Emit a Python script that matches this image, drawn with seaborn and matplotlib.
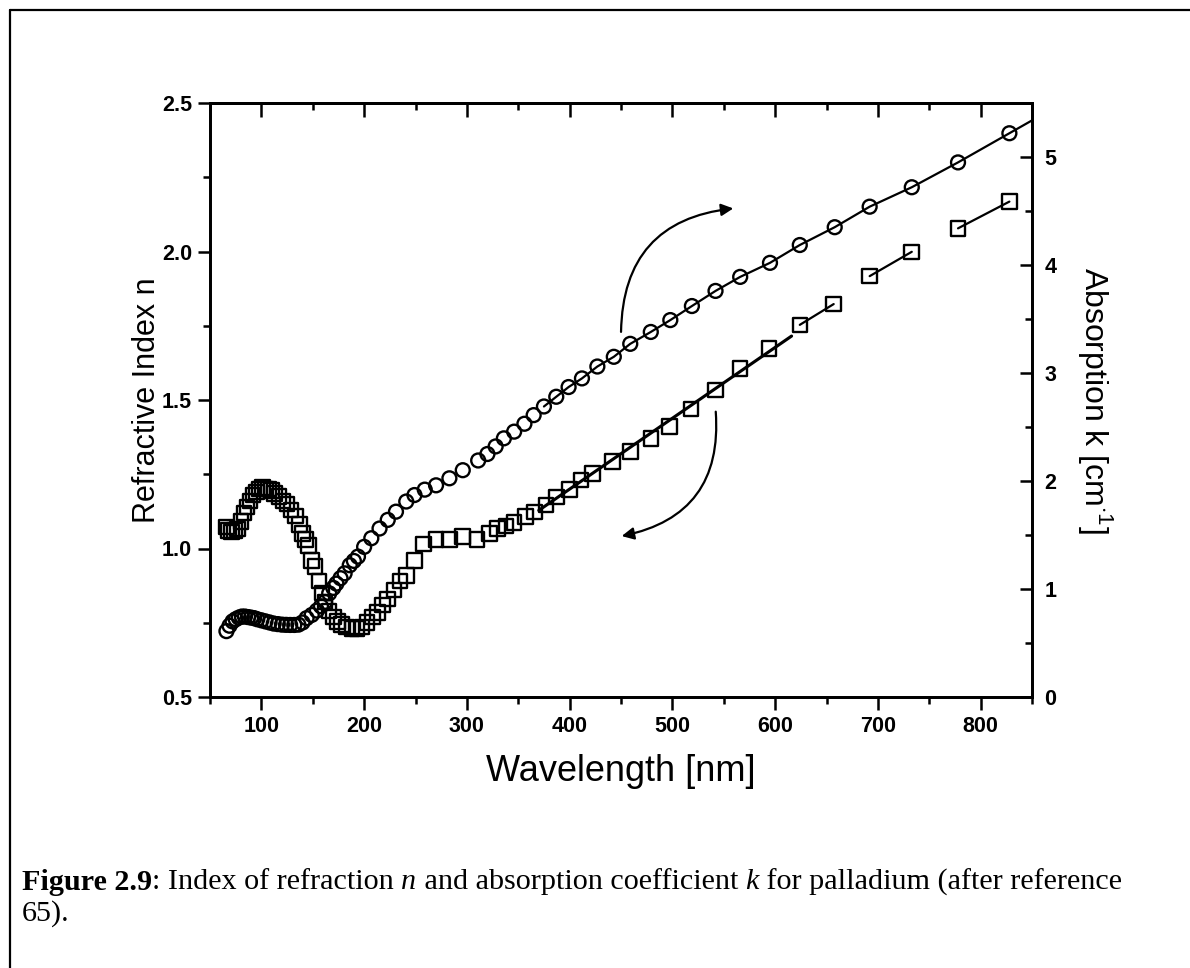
import numpy as np
import pandas as pd
import matplotlib
matplotlib.use("Agg")
import matplotlib.pyplot as plt
from matplotlib.ticker import MultipleLocator
from matplotlib.lines import Line2D
import seaborn as sns

# ---------------- data ----------------
# refractive index n (open squares, left axis)
wl_n = [66, 68, 71, 74, 77, 80, 83, 86, 89, 92, 95, 98, 101, 104, 107, 110, 113,
        117, 121, 125, 129, 133, 137, 140, 143, 146, 149, 152, 156, 159, 162, 166,
        170, 174, 178, 183, 188, 193, 198, 203, 208, 213, 218, 223, 229, 235, 241,
        249, 258, 270, 283, 296, 310, 322, 330, 338, 346, 357, 366, 377, 387, 400,
        411, 422, 442, 459, 479, 497, 518, 542, 566, 594, 624, 657, 692, 733, 778, 828]
n_val = [1.073, 1.06, 1.055, 1.06, 1.065, 1.09, 1.12, 1.14, 1.16, 1.18, 1.19, 1.20,
         1.205, 1.20, 1.20, 1.195, 1.185, 1.175, 1.16, 1.15, 1.13, 1.11, 1.08, 1.05,
         1.03, 1.01, 0.96, 0.94, 0.89, 0.85, 0.82, 0.79, 0.77, 0.755, 0.745, 0.735,
         0.73, 0.73, 0.735, 0.75, 0.77, 0.785, 0.81, 0.83, 0.86, 0.89, 0.91, 0.96,
         1.015, 1.03, 1.03, 1.04, 1.03, 1.051, 1.067, 1.076, 1.087, 1.107, 1.123,
         1.146, 1.174, 1.198, 1.23, 1.253, 1.292, 1.326, 1.37, 1.41, 1.47, 1.534,
         1.607, 1.674, 1.753, 1.823, 1.917, 1.999, 2.078, 2.168]

# absorption k (open circles, right axis)
wl_k = [66, 69, 72, 75, 78, 81, 84, 87, 90, 93, 96, 100, 104, 108, 112, 116, 120,
        124, 128, 132, 136, 140, 144, 149, 154, 158, 162, 166, 170, 173, 177, 181,
        186, 190, 194, 200, 207, 215, 223, 231, 241, 249, 259, 270, 283, 296, 311,
        320, 328, 336, 346, 356, 365, 375, 387, 399, 412, 427, 443, 459, 479, 498,
        519, 542, 566, 595, 624, 658, 692, 733, 778, 828]
k_val = [0.61, 0.66, 0.70, 0.72, 0.735, 0.745, 0.745, 0.74, 0.735, 0.73, 0.72, 0.71,
         0.70, 0.69, 0.68, 0.675, 0.67, 0.668, 0.667, 0.667, 0.67, 0.69, 0.73, 0.76,
         0.80, 0.84, 0.88, 0.96, 1.01, 1.05, 1.10, 1.145, 1.22, 1.26, 1.30, 1.39,
         1.47, 1.56, 1.64, 1.716, 1.81, 1.87, 1.92, 1.96, 2.025, 2.10, 2.19, 2.25,
         2.32, 2.395, 2.457, 2.53, 2.61, 2.69, 2.78, 2.87, 2.95, 3.06, 3.15, 3.27,
         3.38, 3.49, 3.62, 3.76, 3.89, 4.02, 4.185, 4.35, 4.54, 4.72, 4.95, 5.22]

# fitted n line range and connected n pairs beyond it
n_fit_range = (370, 616)
n_pairs = [(624, 657), (692, 733), (778, 828)]
k_line_start = 375

x_ticks = [100, 200, 300, 400, 500, 600, 700, 800]
xlim = (50, 850)
ylim_n = (0.5, 2.5)
ylim_k = (0, 5.5)

# ---------------- style ----------------
sns.set_style("ticks")
plt.rcParams["font.family"] = ["Liberation Sans", "DejaVu Sans"]
plt.rcParams["mathtext.fontset"] = "custom"
plt.rcParams["mathtext.rm"] = "Liberation Sans"
for key in ["text.color", "axes.labelcolor", "xtick.color", "ytick.color",
            "axes.edgecolor"]:
    plt.rcParams[key] = "black"

W, H = 1190, 968
fig = plt.figure(figsize=(W / 100, H / 100), dpi=100)
fig.patch.set_facecolor("white")
L, R, T, B = 210, 1032, 103, 697
ax = fig.add_axes([L / W, 1 - B / H, (R - L) / W, (B - T) / H])
ax2 = ax.twinx()

df_n = pd.DataFrame({"wl": wl_n, "n": n_val})
df_k = pd.DataFrame({"wl": wl_k, "k": k_val})

lw = 1.6
# fitted line through n between n_fit_range
sub = df_n[(df_n.wl >= n_fit_range[0] - 30) & (df_n.wl <= n_fit_range[1] + 30)]
coef = np.polyfit(sub.wl, sub.n, 1)
fit_x = np.array(n_fit_range, dtype=float)
sns.lineplot(x=fit_x, y=np.polyval(coef, fit_x), ax=ax, color="black", lw=lw * 1.4)
for a, b in n_pairs:
    seg = df_n[df_n.wl.isin([a, b])]
    sns.lineplot(x=seg.wl.values, y=seg.n.values, ax=ax, color="black", lw=lw)

sns.scatterplot(data=df_n, x="wl", y="n", ax=ax, marker="s", s=110,
                facecolors="none", edgecolor="black", linewidth=1.7, zorder=3)

# k line from k_line_start onward, extended to the right edge
kl = df_k[df_k.wl >= k_line_start]
slope = (kl.k.values[-1] - kl.k.values[-2]) / (kl.wl.values[-1] - kl.wl.values[-2])
kx = np.append(kl.wl.values, 870.0)
ky = np.append(kl.k.values, kl.k.values[-1] + slope * (870 - kl.wl.values[-1]))
sns.lineplot(x=kx, y=ky, ax=ax2, color="black", lw=lw, sort=False)
sns.scatterplot(data=df_k, x="wl", y="k", ax=ax2, marker="o", s=100,
                facecolors="none", edgecolor="black", linewidth=1.7, zorder=3)

ax.set_xlim(*xlim)
ax.set_ylim(*ylim_n)
ax2.set_ylim(*ylim_k)

# ticks
ax.set_xticks(x_ticks)
ax.xaxis.set_minor_locator(MultipleLocator(50))
ax.yaxis.set_major_locator(MultipleLocator(0.5))
ax.yaxis.set_minor_locator(MultipleLocator(0.25))
ax2.yaxis.set_major_locator(MultipleLocator(1))
ax2.yaxis.set_minor_locator(MultipleLocator(0.5))
ax.yaxis.set_major_formatter(matplotlib.ticker.FormatStrFormatter("%.1f"))

tick_font = 15.5
ax.tick_params(axis="both", which="major", direction="out", length=9, width=1.8,
               labelsize=tick_font, color="black", labelcolor="black")
ax.tick_params(axis="both", which="minor", direction="out", length=5, width=1.8)
ax.tick_params(axis="y", right=False, pad=4)
ax.tick_params(axis="x", top=False, pad=5)
ax2.tick_params(axis="y", which="major", direction="in", length=9, width=1.8,
                labelsize=tick_font, pad=9, color="black", labelcolor="black")
ax2.tick_params(axis="y", which="minor", direction="in", length=5, width=1.8)

secx = ax.secondary_xaxis("top")
secx.set_xticks(x_ticks)
secx.xaxis.set_minor_locator(MultipleLocator(50))
secx.tick_params(which="major", direction="in", length=10, width=1.8, labeltop=False,
                 color="black")
secx.tick_params(which="minor", direction="in", length=5, width=1.8, color="black")
secx.spines["top"].set_linewidth(2)
secx.spines["top"].set_color("black")

for a_ in (ax, ax2):
    for s in a_.spines.values():
        s.set_linewidth(2)
        s.set_color("black")
        s.set_visible(True)

for lab in ax.get_xticklabels() + ax.get_yticklabels() + ax2.get_yticklabels():
    lab.set_fontweight("bold")

ax.set_xlabel("Wavelength [nm]", fontsize=26, labelpad=12, color="black")
ax.set_ylabel("Refractive Index n", fontsize=22, labelpad=0, color="black")
ax2.set_ylabel(r"Absorption k [cm$^{\cdot 1}$]", fontsize=23, rotation=270,
               labelpad=42, color="black")

# curved arrows
ax.annotate("", xy=(562, 2.146), xytext=(450, 1.72),
            arrowprops=dict(arrowstyle="-|>", color="black", lw=1.6,
                            mutation_scale=18, connectionstyle="arc3,rad=-0.45"))
ax.annotate("", xy=(448, 1.04), xytext=(542, 1.47),
            arrowprops=dict(arrowstyle="-|>", color="black", lw=1.6,
                            mutation_scale=18, connectionstyle="arc3,rad=-0.45"))

# frame lines of the page
fig.add_artist(Line2D([10 / W, 1.0], [1 - 10 / H, 1 - 10 / H], color="black", lw=1.6))
fig.add_artist(Line2D([10 / W, 10 / W], [0, 1 - 10 / H], color="black", lw=1.6))

# caption with mixed styles
fig.canvas.draw()
renderer = fig.canvas.get_renderer()
cap_fam = ["Liberation Serif", "DejaVu Serif"]
cap_size = 21.7
pieces = [("Figure 2.9", "bold", "normal"),
          (": Index of refraction ", "normal", "normal"),
          ("n", "normal", "italic"),
          (" and absorption coefficient ", "normal", "normal"),
          ("k", "normal", "italic"),
          (" for palladium (after reference", "normal", "normal")]
x0 = 22 / W
y1 = 1 - 882 / H
xc = x0
for txt, wt, st in pieces:
    t = fig.text(xc, y1, txt, fontsize=cap_size, family=cap_fam, fontweight=wt,
                 fontstyle=st, va="center", ha="left", color="black")
    bb = t.get_window_extent(renderer)
    xc += bb.width / W
fig.text(x0, 1 - 914 / H, "65).", fontsize=cap_size, family=cap_fam, va="center",
         ha="left", color="black")

fig.savefig("out.png", dpi=100, facecolor="white")
